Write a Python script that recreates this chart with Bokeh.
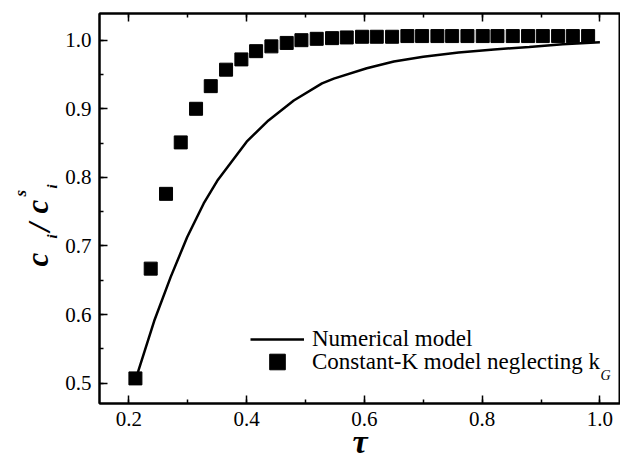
import math
from bokeh.plotting import figure
from bokeh.layouts import row
from bokeh.models import (Range1d, LinearAxis, SingleIntervalTicker, Legend,
                          LegendItem, Label, ColumnDataSource, PrintfTickFormatter,
                          CustomJSTickFormatter)
from bokeh.embed import file_html
from bokeh.resources import INLINE

# ---- data ----
tau_num = [0.213, 0.216, 0.243, 0.271, 0.299, 0.327, 0.350, 0.400, 0.437, 0.480,
           0.528, 0.548, 0.604, 0.650, 0.700, 0.760, 0.820, 0.880, 0.937, 1.000]
c_num = [0.508, 0.518, 0.591, 0.655, 0.713, 0.762, 0.795, 0.852, 0.883, 0.912,
         0.937, 0.944, 0.959, 0.969, 0.976, 0.982, 0.9865, 0.990, 0.994, 0.997]

tau_k = [0.211, 0.237, 0.263, 0.288, 0.314, 0.339, 0.365, 0.391, 0.416, 0.442,
         0.468, 0.493, 0.519, 0.545, 0.570, 0.596, 0.621, 0.647, 0.673, 0.698,
         0.724, 0.749, 0.775, 0.801, 0.826, 0.852, 0.878, 0.903, 0.929, 0.954, 0.980]
c_k = [0.507, 0.667, 0.776, 0.851, 0.900, 0.933, 0.957, 0.972, 0.984, 0.991,
       0.996, 1.000, 1.002, 1.003, 1.004, 1.005, 1.005, 1.005, 1.006, 1.006,
       1.006, 1.006, 1.006, 1.006, 1.006, 1.006, 1.006, 1.006, 1.006, 1.006, 1.006]

label_num = "Numerical model"
label_k = "Constant-K model neglecting k"
label_k_sub = "G"
x_title = "τ"
y_title_parts = ["c", "i", "/", "c", "s", "i"]

X0, X1 = 0.15, 1.035
Y0, Y1 = 0.4704, 1.0389

SERIF = "Liberation Serif"
W, H = 620, 466
YW = 60                               # strip holding the y title
FL, FT, FR, FB = 99, 13, 620, 403     # frame edges in page px

# ---- y title strip (pieces placed in canvas px, rotated) ----
ylab = figure(width=YW, height=H, x_range=Range1d(0, YW), y_range=Range1d(0, H),
              output_backend="svg", toolbar_location=None,
              x_axis_type=None, y_axis_type=None,
              min_border_left=0, min_border_right=0,
              min_border_top=0, min_border_bottom=0)
try:
    ylab.title = None
except Exception:
    ylab.title.visible = False
if "frame_align" in ylab.properties():
    ylab.frame_align = False
ylab.outline_line_color = None
ylab.xgrid.visible = False
ylab.ygrid.visible = False
ylab.background_fill_color = "white"
ylab.border_fill_color = "white"

y_pos = [(37, 266, 31), (51, 238, 15), (39, 231, 31),
         (37, 213, 31), (20, 196, 17), (51, 188, 15)]
for txt, (bx, by, size) in zip(y_title_parts, y_pos):
    ylab.add_layout(Label(x=bx, y=by, x_units="canvas", y_units="canvas",
                          text=txt, angle=math.pi / 2, text_font=SERIF,
                          text_font_style="bold italic",
                          text_font_size=f"{size}px", text_color="black",
                          text_align="left", text_baseline="alphabetic"))

# ---- main plot ----
p = figure(width=W - YW, height=H, x_range=Range1d(X0, X1), y_range=Range1d(Y0, Y1),
           output_backend="svg", toolbar_location=None,
           min_border_left=FL - YW, min_border_right=W - FR, min_border_top=FT,
           min_border_bottom=H - FB)
p.xgrid.visible = False
p.ygrid.visible = False
p.outline_line_color = "black"
p.outline_line_width = 2
p.background_fill_color = "white"
p.border_fill_color = "white"


def style_axis(ax, ticker, show_labels=True):
    ax.ticker = ticker
    ax.axis_line_width = 2
    ax.axis_line_color = "black"
    ax.major_tick_in = 8
    ax.major_tick_out = 0
    ax.minor_tick_in = 4
    ax.minor_tick_out = 0
    ax.major_tick_line_width = 1.5
    ax.minor_tick_line_width = 1.5
    ax.major_tick_line_color = "black"
    ax.minor_tick_line_color = "black"
    ax.major_label_text_font = SERIF
    ax.major_label_text_color = "black"
    ax.major_label_text_font_size = "21px"
    if show_labels:
        ax.formatter = PrintfTickFormatter(format="%.1f")
        ax.major_label_standoff = 8
    else:
        ax.formatter = CustomJSTickFormatter(code="return ''")
        ax.major_label_standoff = 0


bottom = p.below[0]
left = p.left[0]
style_axis(bottom, SingleIntervalTicker(interval=0.2, num_minor_ticks=2))
style_axis(left, SingleIntervalTicker(interval=0.1, num_minor_ticks=2))
top = LinearAxis()
style_axis(top, SingleIntervalTicker(interval=0.2, num_minor_ticks=2), show_labels=False)
p.add_layout(top, "above")

bottom.axis_label = x_title
bottom.axis_label_text_font = SERIF
bottom.axis_label_text_font_style = "bold italic"
bottom.axis_label_text_font_size = "34px"
bottom.axis_label_text_color = "black"
bottom.axis_label_standoff = -6

src_num = ColumnDataSource(dict(x=tau_num, y=c_num))
src_k = ColumnDataSource(dict(x=tau_k, y=c_k))
r_line = p.line("x", "y", source=src_num, line_color="black", line_width=2.5)
r_sq = p.scatter("x", "y", source=src_k, marker="square", size=13,
                 fill_color="black", line_color="black")

common = dict(padding=0, spacing=0, glyph_width=54, label_standoff=8,
              label_height=20, label_text_font=SERIF, label_text_font_size="23px",
              label_text_color="black", border_line_color=None,
              background_fill_alpha=0)
leg_a = Legend(items=[LegendItem(label=label_num, renderers=[r_line])],
               location=(250 - FL, 403 - 352), glyph_height=20, **common)
leg_b = Legend(items=[LegendItem(label=label_k, renderers=[r_sq])],
               location=(250 - FL, 403 - 381), glyph_height=39, **common)
p.add_layout(leg_a)
p.add_layout(leg_b)

# subscript G after the legend text
g_x = 311.7 + 23 * 12.53 - YW
p.add_layout(Label(x=g_x, y=375, x_units="canvas", y_units="canvas",
                   text=label_k_sub, text_font=SERIF,
                   text_font_style="italic", text_font_size="14px",
                   text_color="black", text_baseline="alphabetic"))

layout = row(ylab, p, spacing=0)
open("out.html", "w").write(file_html(layout, INLINE))
